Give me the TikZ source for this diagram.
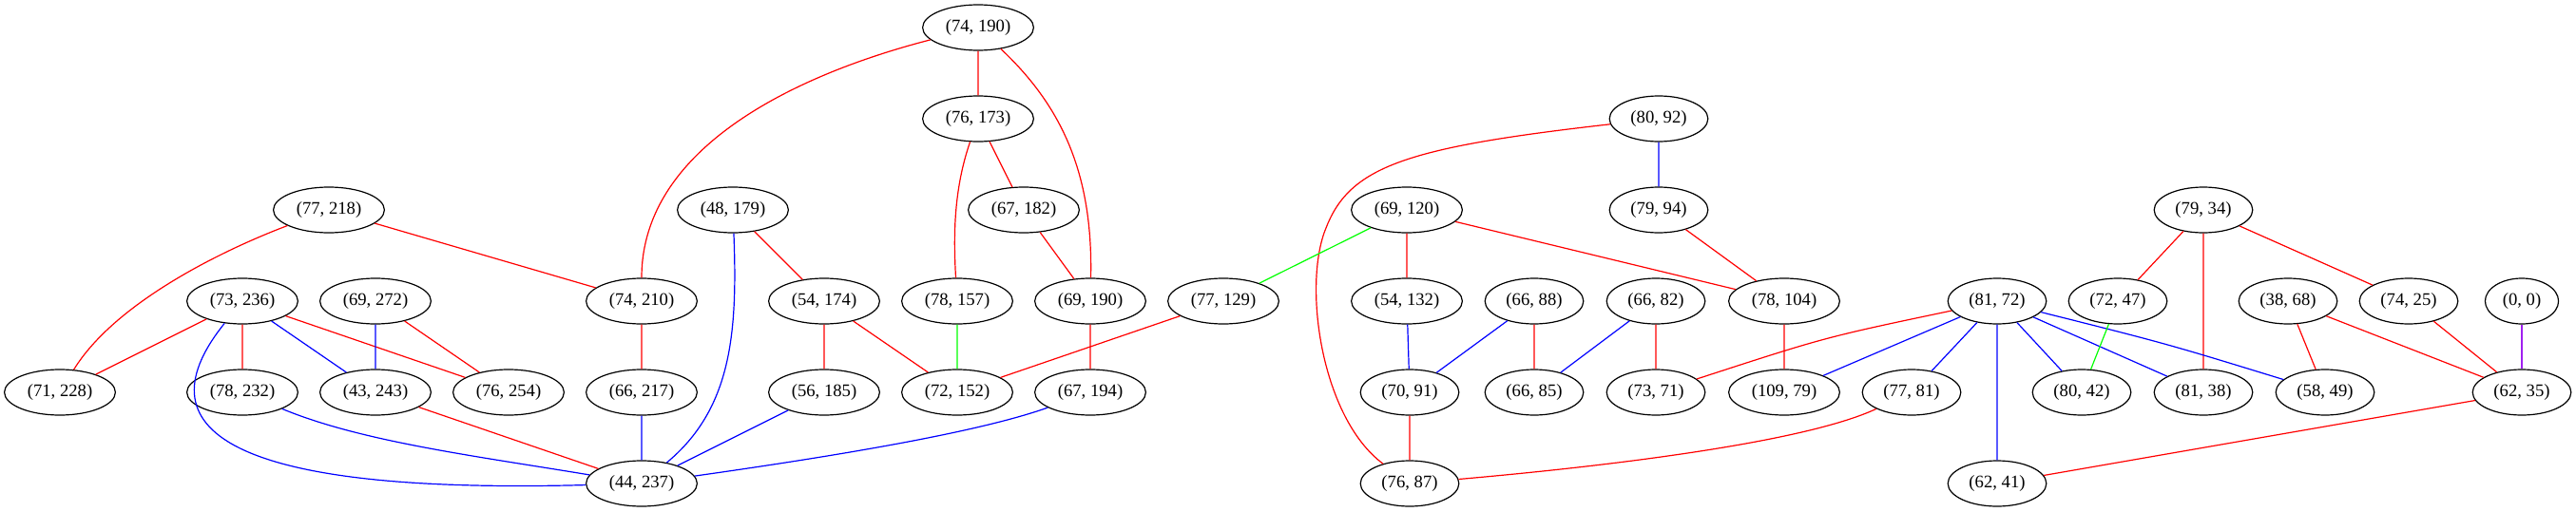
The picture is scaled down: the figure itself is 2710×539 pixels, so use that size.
\documentclass[tikz,border=0pt]{standalone}
\usepackage{fontspec}
\setmainfont{Liberation Serif}
\usetikzlibrary{shapes.geometric}
\definecolor{gvpurple}{HTML}{A020F0}

\begin{document}
\begin{tikzpicture}[x=0.75pt,y=-0.75pt,line width=0.9pt,
  vtx/.style={ellipse,draw,black,inner xsep=5.3pt,inner ysep=2pt,minimum height=36pt,font=\fontsize{14}{16}\selectfont}]
\useasboundingbox (0,0) rectangle (2710,539);

% top rows
\node[vtx] (p74x190) at (1029,29) {(74, 190)};
\node[vtx] (p76x173) at (1029,125) {(76, 173)};
\node[vtx] (p80x92) at (1745,125) {(80, 92)};
\node[vtx] (p77x218) at (346,221) {(77, 218)};
\node[vtx] (p48x179) at (771,221) {(48, 179)};
\node[vtx] (p67x182) at (1077,221) {(67, 182)};
\node[vtx] (p69x120) at (1480,221) {(69, 120)};
\node[vtx] (p79x94) at (1745,221) {(79, 94)};
\node[vtx] (p79x34) at (2318,221) {(79, 34)};

% middle row
\node[vtx] (p73x236) at (255,317) {(73, 236)};
\node[vtx] (p69x272) at (395,317) {(69, 272)};
\node[vtx] (p74x210) at (675,317) {(74, 210)};
\node[vtx] (p54x174) at (867,317) {(54, 174)};
\node[vtx] (p78x157) at (1007,317) {(78, 157)};
\node[vtx] (p69x190) at (1147,317) {(69, 190)};
\node[vtx] (p77x129) at (1287,317) {(77, 129)};
\node[vtx] (p54x132) at (1480,317) {(54, 132)};
\node[vtx] (p66x88) at (1614,317) {(66, 88)};
\node[vtx] (p66x82) at (1742,317) {(66, 82)};
\node[vtx] (p78x104) at (1877,317) {(78, 104)};
\node[vtx] (p81x72) at (2101,317) {(81, 72)};
\node[vtx] (p72x47) at (2228,317) {(72, 47)};
\node[vtx] (p38x68) at (2407,317) {(38, 68)};
\node[vtx] (p74x25) at (2534,317) {(74, 25)};
\node[vtx] (p0x0) at (2653,317) {(0, 0)};

% lower rows
\node[vtx] (p71x228) at (63,413) {(71, 228)};
\node[vtx] (p78x232) at (255,413) {(78, 232)};
\node[vtx] (p43x243) at (395,413) {(43, 243)};
\node[vtx] (p76x254) at (535,413) {(76, 254)};
\node[vtx] (p66x217) at (675,413) {(66, 217)};
\node[vtx] (p56x185) at (867,413) {(56, 185)};
\node[vtx] (p72x152) at (1007,413) {(72, 152)};
\node[vtx] (p67x194) at (1147,413) {(67, 194)};
\node[vtx] (p70x91) at (1483,413) {(70, 91)};
\node[vtx] (p66x85) at (1614,413) {(66, 85)};
\node[vtx] (p73x71) at (1742,413) {(73, 71)};
\node[vtx] (p109x79) at (1877,413) {(109, 79)};
\node[vtx] (p77x81) at (2011,413) {(77, 81)};
\node[vtx] (p80x42) at (2190,413) {(80, 42)};
\node[vtx] (p81x38) at (2318,413) {(81, 38)};
\node[vtx] (p58x49) at (2446,413) {(58, 49)};
\node[vtx] (p62x35) at (2653,413) {(62, 35)};
\node[vtx] (p44x237) at (675,509) {(44, 237)};
\node[vtx] (p76x87) at (1483,509) {(76, 87)};
\node[vtx] (p62x41) at (2101,509) {(62, 41)};

% red edges
\draw[red] (p74x190)--(p76x173) (p76x173)--(p67x182) (p67x182)--(p69x190)
  (p77x218)--(p74x210) (p48x179)--(p54x174) (p73x236)--(p71x228)
  (p73x236)--(p78x232) (p73x236)--(p76x254) (p69x272)--(p76x254)
  (p74x210)--(p66x217) (p54x174)--(p56x185) (p54x174)--(p72x152)
  (p69x190)--(p67x194) (p77x129)--(p72x152) (p43x243)--(p44x237);
\draw[red] (p79x94)--(p78x104) (p69x120)--(p54x132) (p69x120)--(p78x104)
  (p66x88)--(p66x85) (p66x82)--(p73x71) (p78x104)--(p109x79) (p70x91)--(p76x87)
  (p79x34)--(p72x47) (p79x34)--(p81x38) (p79x34)--(p74x25) (p38x68)--(p58x49)
  (p38x68)--(p62x35) (p74x25)--(p62x35) (p62x35)--(p62x41);
\draw[red] (p74x190) .. controls (850,75) and (675,150) .. (p74x210);
\draw[red] (p74x190) .. controls (1115,110) and (1150,180) .. (p69x190);
\draw[red] (p76x173) .. controls (1003,200) and (1003,250) .. (p78x157);
\draw[red] (p77x218) .. controls (230,265) and (120,320) .. (p71x228);
\draw[red] (p80x92) .. controls (1480,155) and (1420,175) .. (1395,240)
  .. controls (1370,300) and (1390,440) .. (p76x87);
\draw[red] (p77x81) .. controls (1900,465) and (1700,490) .. (p76x87);
\draw[red] (p81x72) .. controls (1920,355) .. (p73x71);

% blue edges
\draw[blue] (p73x236)--(p43x243) (p69x272)--(p43x243) (p66x217)--(p44x237)
  (p56x185)--(p44x237) (p80x92)--(p79x94) (p54x132)--(p70x91) (p66x88)--(p70x91)
  (p66x82)--(p66x85) (p81x72)--(p109x79) (p81x72)--(p77x81) (p81x72)--(p62x41)
  (p81x72)--(p80x42) (p81x72)--(p81x38);
\draw[blue] (p48x179) .. controls (776,350) and (770,430) .. (p44x237);
\draw[blue] (p73x236) .. controls (140,460) and (260,520) .. (p44x237);
\draw[blue] (p78x232) .. controls (380,465) and (500,480) .. (p44x237);
\draw[blue] (p67x194) .. controls (1030,455) and (880,480) .. (p44x237);
\draw[blue] (p81x72) .. controls (2280,362) .. (p58x49);

% green and purple edges
\draw[green] (p78x157)--(p72x152) (p69x120)--(p77x129) (p72x47)--(p80x42);
\draw[gvpurple] (p0x0)--(p62x35);

\end{tikzpicture}
\end{document}
